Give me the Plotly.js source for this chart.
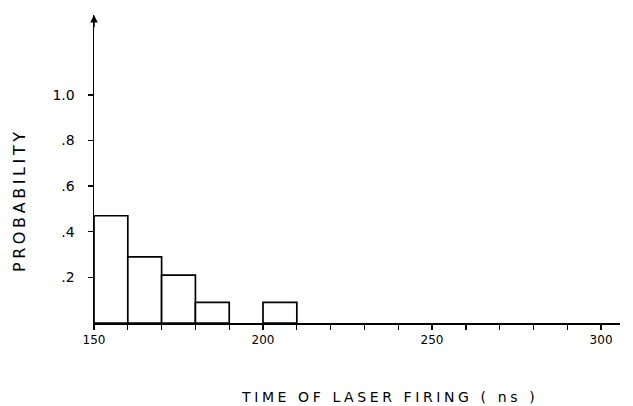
<!DOCTYPE html>
<html>
<head>
<meta charset="utf-8">
<script src="https://cdn.plot.ly/plotly-3.0.1.min.js"></script>
<style>
html,body{margin:0;padding:0;background:#fff;}
#chart{width:633px;height:406px;}
.annotation-text{letter-spacing:3.6px;}
</style>
</head>
<body>
<div id="chart"></div>
<script>
// Histogram bins (time of laser firing, ns) and probabilities
const binStarts = [150, 160, 170, 180, 200];
const binWidths = [10, 10, 10, 10, 10];
const probabilities = [0.47, 0.29, 0.21, 0.09, 0.09];

// Axis ticks
const xTickVals = [150, 160, 170, 180, 190, 200, 210, 220, 230, 240, 250, 260, 270, 280, 290, 300];
const xTickText = ['150', '', '', '', '', '200', '', '', '', '', '250', '', '', '', '', '300'];
const yTickVals = [0.2, 0.4, 0.6, 0.8, 1.0];
const yTickText = ['.2', '.4', '.6', '.8', '1.0'];

// Axis titles
const xTitle = 'TIME OF LASER FIRING ( ns )';
const yTitle = 'PROBABILITY';

const xRange = [150, 305.6];
const yRange = [0, 1.35];

const FONT = 'DejaVu Sans, Liberation Sans, sans-serif';

const traces = [{
  type: 'bar',
  x: binStarts,
  y: probabilities,
  width: binWidths,
  offset: 0,
  marker: {color: '#ffffff', line: {color: '#000000', width: 1.7}},
  hoverinfo: 'x+y',
  showlegend: false
}];

const axisCommon = {
  showgrid: false,
  zeroline: false,
  tickcolor: '#000',
  tickwidth: 1.3,
  ticklen: 5,
  tickfont: {family: FONT, size: 12, color: '#000'}
};

const layout = {
  width: 633,
  height: 406,
  margin: {l: 94, r: 13, t: 15, b: 83},
  paper_bgcolor: '#fff',
  plot_bgcolor: '#fff',
  bargap: 0,
  font: {family: FONT, color: '#000'},
  xaxis: Object.assign({}, axisCommon, {
    range: xRange,
    tickmode: 'array',
    tickvals: xTickVals,
    ticktext: xTickText,
    ticks: 'outside',
    showline: true,
    linecolor: '#000',
    linewidth: 1.5
  }),
  xaxis2: Object.assign({}, axisCommon, {
    overlaying: 'x',
    range: xRange,
    tickmode: 'array',
    tickvals: xTickVals,
    ticks: 'inside',
    showticklabels: false,
    showline: false,
    anchor: 'y'
  }),
  yaxis: Object.assign({}, axisCommon, {
    range: yRange,
    tickmode: 'array',
    tickvals: yTickVals,
    ticktext: yTickText,
    ticks: 'outside',
    ticklabelstandoff: 10,
    tickfont: {family: FONT, size: 14, color: '#000'},
    showline: true,
    linecolor: '#000',
    linewidth: 1.5
  }),
  yaxis2: Object.assign({}, axisCommon, {
    overlaying: 'y',
    range: yRange,
    tickmode: 'array',
    tickvals: yTickVals,
    ticks: 'inside',
    showticklabels: false,
    showline: false,
    anchor: 'x'
  }),
  annotations: [
    {
      x: xRange[0], y: yRange[1],
      ax: xRange[0], ay: yRange[1] - 0.06,
      xref: 'x', yref: 'y', axref: 'x', ayref: 'y',
      showarrow: true, arrowhead: 2, arrowsize: 1, arrowwidth: 1.5,
      arrowcolor: '#000', text: ''
    },
    {
      text: xTitle,
      xref: 'paper', yref: 'paper',
      x: 0.561, y: -0.240,
      xanchor: 'center', yanchor: 'middle',
      showarrow: false,
      font: {family: FONT, size: 14, color: '#000'}
    },
    {
      text: yTitle,
      xref: 'paper', yref: 'paper',
      x: -0.1426, y: 0.399,
      xanchor: 'center', yanchor: 'middle',
      textangle: -90,
      showarrow: false,
      font: {family: FONT, size: 16, color: '#000'}
    }
  ]
};

Plotly.newPlot('chart', traces, layout, {staticPlot: true, displayModeBar: false});
</script>
</body>
</html>
